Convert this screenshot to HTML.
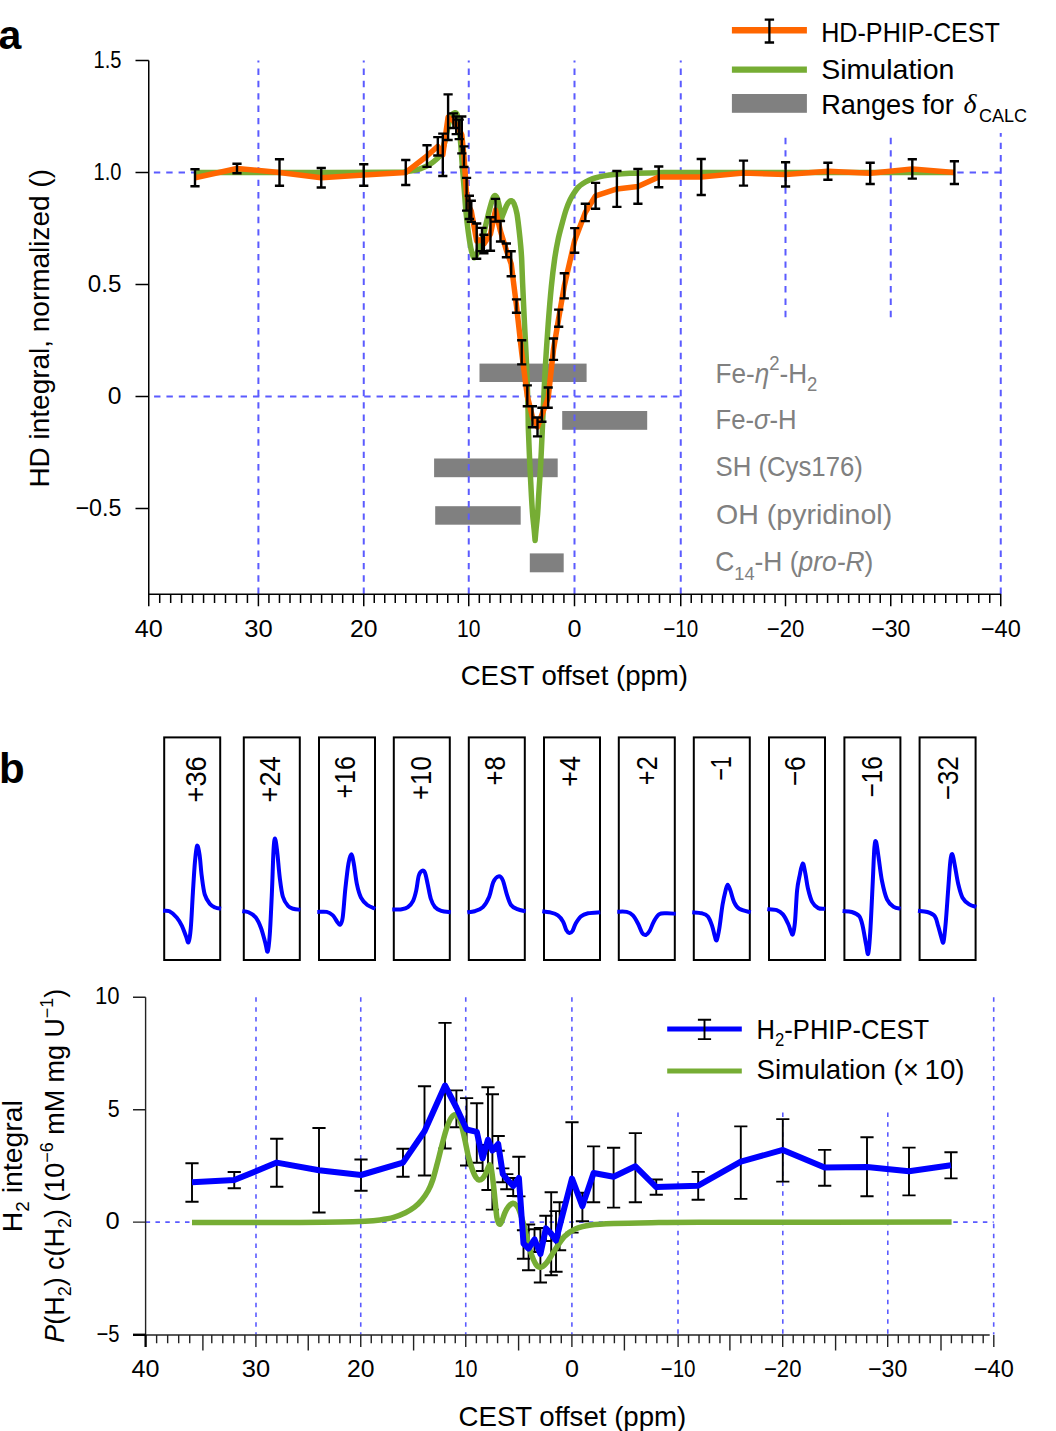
<!DOCTYPE html>
<html><head><meta charset="utf-8"><style>
html,body{margin:0;padding:0;background:#fff;}
svg{display:block;font-family:"Liberation Sans", sans-serif;}
</style></head><body>
<svg width="1056" height="1431" viewBox="0 0 1056 1431">
<rect width="1056" height="1431" fill="#fff"/>
<text x="-1.5" y="48.5" font-size="41" font-weight="bold" fill="#000">a</text>
<rect x="479.5" y="363.6" width="107.1" height="18.4" fill="#808080"/>
<rect x="562.2" y="411" width="85" height="18.8" fill="#808080"/>
<rect x="434.1" y="458.5" width="123.6" height="18.7" fill="#808080"/>
<rect x="435.2" y="506.2" width="85.5" height="18.5" fill="#808080"/>
<rect x="529.8" y="553.4" width="33.9" height="18.9" fill="#808080"/>
<line x1="258.4" y1="594" x2="258.4" y2="60.5" stroke="#5b5bff" stroke-width="2" stroke-dasharray="6.4 5.96" fill="none"/>
<line x1="363.75" y1="594" x2="363.75" y2="60.5" stroke="#5b5bff" stroke-width="2" stroke-dasharray="6.4 5.96" fill="none"/>
<line x1="468.75" y1="594" x2="468.75" y2="60.5" stroke="#5b5bff" stroke-width="2" stroke-dasharray="6.4 5.96" fill="none"/>
<line x1="574.5" y1="594" x2="574.5" y2="60.5" stroke="#5b5bff" stroke-width="2" stroke-dasharray="6.4 5.96" fill="none"/>
<line x1="680.75" y1="594" x2="680.75" y2="60.5" stroke="#5b5bff" stroke-width="2" stroke-dasharray="6.4 5.96" fill="none"/>
<line x1="1000.75" y1="594" x2="1000.75" y2="133" stroke="#5b5bff" stroke-width="2" stroke-dasharray="6.4 5.96" fill="none"/>
<line x1="785.5" y1="137.8" x2="785.5" y2="323" stroke="#5b5bff" stroke-width="2" stroke-dasharray="6.4 5.96" fill="none"/>
<line x1="890.75" y1="137.8" x2="890.75" y2="323" stroke="#5b5bff" stroke-width="2" stroke-dasharray="6.4 5.96" fill="none"/>
<line x1="1000.75" y1="172.4" x2="148.75" y2="172.4" stroke="#5b5bff" stroke-width="2" stroke-dasharray="6.4 5.96" fill="none"/>
<line x1="679.6" y1="396.6" x2="148.75" y2="396.6" stroke="#5b5bff" stroke-width="2" stroke-dasharray="6.4 5.96" fill="none"/>
<path d="M195,172.4 C212.5,172.4 266.67,172.42 300,172.4 C333.33,172.38 377.5,172.4 395,172.3 C412.5,172.2 402.17,172.05 405,171.8 C407.83,171.55 409.5,171.3 412,170.8 C414.5,170.3 417.08,169.83 420,168.8 C422.92,167.77 426.67,166.27 429.5,164.6 C432.33,162.93 435.08,160.6 437,158.8 C438.92,157 439.75,156.43 441,153.8 C442.25,151.17 443.33,147.47 444.5,143 C445.67,138.53 446.92,131.5 448,127 C449.08,122.5 449.92,118.37 451,116 C452.08,113.63 453.5,113.05 454.5,112.8 C455.5,112.55 456.25,112.3 457,114.5 C457.75,116.7 458.37,120.92 459,126 C459.63,131.08 460.22,138 460.8,145 C461.38,152 461.93,160.67 462.5,168 C463.07,175.33 463.6,181.5 464.2,189 C464.8,196.5 465.4,205.67 466.1,213 C466.8,220.33 467.62,227.17 468.4,233 C469.18,238.83 470.07,244.25 470.8,248 C471.53,251.75 472.22,253.87 472.8,255.5 C473.38,257.13 473.77,257.72 474.3,257.8 C474.83,257.88 475.28,257.47 476,256 C476.72,254.53 477.77,251.33 478.6,249 C479.43,246.67 480.18,244.5 481,242 C481.82,239.5 482.77,236.58 483.5,234 C484.23,231.42 484.8,228.93 485.4,226.5 C486,224.07 486.5,221.9 487.1,219.4 C487.7,216.9 488.42,213.82 489,211.5 C489.58,209.18 490.03,207.5 490.6,205.5 C491.17,203.5 491.75,201.15 492.4,199.5 C493.05,197.85 493.68,195.77 494.5,195.6 C495.32,195.43 496.47,196.52 497.3,198.5 C498.13,200.48 498.8,204.17 499.5,207.5 C500.2,210.83 501.17,216.67 501.5,218.5 L501.5,218.5 C501.92,217.42 503.15,214.17 504,212 C504.85,209.83 505.77,207.2 506.6,205.5 C507.43,203.8 508.22,202.6 509,201.8 C509.78,201 510.47,200.42 511.3,200.7 C512.13,200.98 513.07,201.35 514,203.5 C514.93,205.65 516.05,209.13 516.9,213.6 C517.75,218.07 518.45,224.73 519.1,230.3 C519.75,235.87 520.37,242.05 520.8,247 C521.23,251.95 521.4,254 521.7,260 C522,266 522.13,272.33 522.6,283 C523.07,293.67 523.83,310.17 524.5,324 C525.17,337.83 526.02,352 526.6,366 C527.18,380 527.7,397.33 528,408 C528.3,418.67 528.1,420.75 528.4,430 C528.7,439.25 529.28,452.33 529.8,463.5 C530.32,474.67 531.03,488.58 531.5,497 C531.97,505.42 532.15,508.5 532.6,514 C533.05,519.5 533.78,525.58 534.2,530 C534.62,534.42 534.95,538.75 535.1,540.5 L535.1,540.5 C535.25,538.75 535.58,534.42 536,530 C536.42,525.58 537.17,519.5 537.6,514 C538.03,508.5 538.08,505.42 538.6,497 C539.12,488.58 540.08,474.67 540.7,463.5 C541.32,452.33 541.87,439.25 542.3,430 C542.73,420.75 542.78,418.67 543.3,408 C543.82,397.33 544.58,380 545.4,366 C546.22,352 547.22,337.17 548.2,324 C549.18,310.83 550.25,297.67 551.3,287 C552.35,276.33 553.38,267.83 554.5,260 C555.62,252.17 556.75,246 558,240 C559.25,234 560.67,229 562,224 C563.33,219 564.67,214 566,210 C567.33,206 568.67,202.83 570,200 C571.33,197.17 572.67,195.08 574,193 C575.33,190.92 576.5,189.08 578,187.5 C579.5,185.92 581.17,184.7 583,183.5 C584.83,182.3 587,181.22 589,180.3 C591,179.38 592.5,178.73 595,178 C597.5,177.27 600.83,176.5 604,175.9 C607.17,175.3 609.67,174.83 614,174.4 C618.33,173.97 622.67,173.58 630,173.3 C637.33,173.02 646.33,172.85 658,172.7 C669.67,172.55 650.6,172.45 700,172.4 C749.4,172.35 912,172.4 954.4,172.4" stroke="#76ad34" stroke-width="5.5" fill="none" stroke-linejoin="round" stroke-linecap="butt"/>
<path d="M195,177.75 L237,168.5 L279.5,172.5 L321.25,177.75 L363.75,175 L405.75,172.5 L427,156 L437.8,146.3 L442.8,154.8 L448.1,117.2 L453.4,120.7 L456.2,125.3 L459.2,129.4 L461.8,135 L464,156.7 L466.6,194 L469.4,207.4 L471.3,211.3 L476.7,241 L482,239.5 L483.9,244 L490.5,234 L495.5,210 L500.5,231.3 L506.4,250.3 L511.2,263.8 L516.5,306 L521.7,352.4 L527.3,395.9 L532.4,416.8 L537.5,427 L541.9,414.7 L548.2,397.6 L553.5,349.2 L558.7,318.2 L564.3,285.9 L574.7,240.4 L585.3,212.5 L595.6,195.8 L616.9,188.9 L637.9,186.4 L658.75,176.9 L701.25,177 L743.5,173.1 L785.6,174.4 L827.9,171.2 L870.2,173.3 L912.3,168.9 L954.4,172.6" stroke="#ff6600" stroke-width="5.5" fill="none" stroke-linejoin="round"/>
<path d="M195,169.25V186.25 M190.4,169.25h9.2 M190.4,186.25h9.2 M237,163.75V173.25 M232.4,163.75h9.2 M232.4,173.25h9.2 M279.5,159.25V185.75 M274.9,159.25h9.2 M274.9,185.75h9.2 M321.25,168V187.5 M316.65,168h9.2 M316.65,187.5h9.2 M363.75,164.25V185.75 M359.15,164.25h9.2 M359.15,185.75h9.2 M405.75,160V185 M401.15,160h9.2 M401.15,185h9.2 M427,145.3V166.9 M422.4,145.3h9.2 M422.4,166.9h9.2 M437.8,137.1V155.5 M433.2,137.1h9.2 M433.2,155.5h9.2 M442.8,133.6V176 M438.2,133.6h9.2 M438.2,176h9.2 M448.1,94.4V140 M443.5,94.4h9.2 M443.5,140h9.2 M453.4,113.4V128 M448.8,113.4h9.2 M448.8,128h9.2 M456.2,116.5V134.1 M451.6,116.5h9.2 M451.6,134.1h9.2 M459.2,119.6V139.1 M454.6,119.6h9.2 M454.6,139.1h9.2 M461.8,116.5V153.4 M457.2,116.5h9.2 M457.2,153.4h9.2 M464,146.4V167 M459.4,146.4h9.2 M459.4,167h9.2 M466.6,177.9V210.6 M462,177.9h9.2 M462,210.6h9.2 M469.4,195.8V219 M464.8,195.8h9.2 M464.8,219h9.2 M471.3,200.8V221.9 M466.7,200.8h9.2 M466.7,221.9h9.2 M476.7,223.5V258.7 M472.1,223.5h9.2 M472.1,258.7h9.2 M482,227.9V251.1 M477.4,227.9h9.2 M477.4,251.1h9.2 M483.9,234.8V253.3 M479.3,234.8h9.2 M479.3,253.3h9.2 M490.5,217.2V250.8 M485.9,217.2h9.2 M485.9,250.8h9.2 M495.5,198.9V221.6 M490.9,198.9h9.2 M490.9,221.6h9.2 M500.5,221V241.5 M495.9,221h9.2 M495.9,241.5h9.2 M506.4,243.5V257.2 M501.8,243.5h9.2 M501.8,257.2h9.2 M511.2,251.2V276.3 M506.6,251.2h9.2 M506.6,276.3h9.2 M516.5,299.4V312.7 M511.9,299.4h9.2 M511.9,312.7h9.2 M521.7,340.3V364.4 M517.1,340.3h9.2 M517.1,364.4h9.2 M527.3,385.4V406.3 M522.7,385.4h9.2 M522.7,406.3h9.2 M532.4,406.3V427.3 M527.8,406.3h9.2 M527.8,427.3h9.2 M537.5,417.5V436.4 M532.9,417.5h9.2 M532.9,436.4h9.2 M541.9,407.7V421.7 M537.3,407.7h9.2 M537.3,421.7h9.2 M548.2,387.5V407.7 M543.6,387.5h9.2 M543.6,407.7h9.2 M553.5,338.5V359.9 M548.9,338.5h9.2 M548.9,359.9h9.2 M558.7,309.6V326.7 M554.1,309.6h9.2 M554.1,326.7h9.2 M564.3,273.3V298.4 M559.7,273.3h9.2 M559.7,298.4h9.2 M574.7,228.1V252.7 M570.1,228.1h9.2 M570.1,252.7h9.2 M585.3,203.8V221.1 M580.7,203.8h9.2 M580.7,221.1h9.2 M595.6,182.9V208.7 M591,182.9h9.2 M591,208.7h9.2 M616.9,171V206.9 M612.3,171h9.2 M612.3,206.9h9.2 M637.9,169V203.75 M633.3,169h9.2 M633.3,203.75h9.2 M658.75,166.5V187.25 M654.15,166.5h9.2 M654.15,187.25h9.2 M701.25,159V195 M696.65,159h9.2 M696.65,195h9.2 M743.5,160.6V185.6 M738.9,160.6h9.2 M738.9,185.6h9.2 M785.6,162.25V186.5 M781,162.25h9.2 M781,186.5h9.2 M827.9,162.7V179.7 M823.3,162.7h9.2 M823.3,179.7h9.2 M870.2,162.7V184 M865.6,162.7h9.2 M865.6,184h9.2 M912.3,159.2V178.6 M907.7,159.2h9.2 M907.7,178.6h9.2 M954.4,161.2V184 M949.8,161.2h9.2 M949.8,184h9.2" stroke="#000" stroke-width="2.4" fill="none"/>
<path d="M148.75,60.5 V594.2 H1000.75" stroke="#000" stroke-width="1.5" fill="none"/>
<path d="M135.5,60.5H148.75 M135.5,172.4H148.75 M135.5,284.5H148.75 M135.5,396.4H148.75 M135.5,508.5H148.75 M148.75,594V606.3 M159.72,594V603 M170.68,594V603 M181.64,594V603 M192.61,594V603 M203.57,594V603 M214.54,594V603 M225.5,594V603 M236.47,594V603 M247.43,594V603 M258.4,594V606.3 M268.94,594V603 M279.47,594V603 M290,594V603 M300.54,594V603 M311.07,594V603 M321.61,594V603 M332.14,594V603 M342.68,594V603 M353.22,594V603 M363.75,594V606.3 M374.25,594V603 M384.75,594V603 M395.25,594V603 M405.75,594V603 M416.25,594V603 M426.75,594V603 M437.25,594V603 M447.75,594V603 M458.25,594V603 M468.75,594V606.3 M479.32,594V603 M489.9,594V603 M500.48,594V603 M511.05,594V603 M521.62,594V603 M532.2,594V603 M542.77,594V603 M553.35,594V603 M563.92,594V603 M574.5,594V606.3 M585.12,594V603 M595.75,594V603 M606.38,594V603 M617,594V603 M627.62,594V603 M638.25,594V603 M648.88,594V603 M659.5,594V603 M670.12,594V603 M680.75,594V606.3 M691.23,594V603 M701.7,594V603 M712.17,594V603 M722.65,594V603 M733.12,594V603 M743.6,594V603 M754.08,594V603 M764.55,594V603 M775.02,594V603 M785.5,594V606.3 M796.02,594V603 M806.55,594V603 M817.08,594V603 M827.6,594V603 M838.12,594V603 M848.65,594V603 M859.17,594V603 M869.7,594V603 M880.23,594V603 M890.75,594V606.3 M901.75,594V603 M912.75,594V603 M923.75,594V603 M934.75,594V603 M945.75,594V603 M956.75,594V603 M967.75,594V603 M978.75,594V603 M989.75,594V603 M1000.75,594V606.3" stroke="#000" stroke-width="1.5" fill="none"/>
<text x="121.4" y="68.1" font-size="24" text-anchor="end" fill="#000" textLength="27.9" lengthAdjust="spacingAndGlyphs">1.5</text>
<text x="121.4" y="179.9" font-size="24" text-anchor="end" fill="#000" textLength="27.9" lengthAdjust="spacingAndGlyphs">1.0</text>
<text x="121.4" y="292.1" font-size="24" text-anchor="end" fill="#000" textLength="33.6" lengthAdjust="spacingAndGlyphs">0.5</text>
<text x="121.4" y="404" font-size="24" text-anchor="end" fill="#000" textLength="13.7" lengthAdjust="spacingAndGlyphs">0</text>
<text x="121.4" y="516.1" font-size="24" text-anchor="end" fill="#000" textLength="45.9" lengthAdjust="spacingAndGlyphs">−0.5</text>
<text x="148.75" y="636.6" font-size="24" text-anchor="middle" fill="#000" textLength="28" lengthAdjust="spacingAndGlyphs">40</text>
<text x="258.4" y="636.6" font-size="24" text-anchor="middle" fill="#000" textLength="28.4" lengthAdjust="spacingAndGlyphs">30</text>
<text x="363.75" y="636.6" font-size="24" text-anchor="middle" fill="#000" textLength="27.5" lengthAdjust="spacingAndGlyphs">20</text>
<text x="468.75" y="636.6" font-size="24" text-anchor="middle" fill="#000" textLength="23.5" lengthAdjust="spacingAndGlyphs">10</text>
<text x="574.5" y="636.6" font-size="24" text-anchor="middle" fill="#000" textLength="14" lengthAdjust="spacingAndGlyphs">0</text>
<text x="680.75" y="636.6" font-size="24" text-anchor="middle" fill="#000" textLength="35" lengthAdjust="spacingAndGlyphs">−10</text>
<text x="785.5" y="636.6" font-size="24" text-anchor="middle" fill="#000" textLength="37.5" lengthAdjust="spacingAndGlyphs">−20</text>
<text x="890.75" y="636.6" font-size="24" text-anchor="middle" fill="#000" textLength="39.25" lengthAdjust="spacingAndGlyphs">−30</text>
<text x="1000.75" y="636.6" font-size="24" text-anchor="middle" fill="#000" textLength="40" lengthAdjust="spacingAndGlyphs">−40</text>
<text x="460.7" y="684.5" font-size="27.8" fill="#000" textLength="227.3" lengthAdjust="spacingAndGlyphs">CEST offset (ppm)</text>
<text transform="translate(48.8,487.6) rotate(-90)" font-size="28" fill="#000" textLength="318.6" lengthAdjust="spacingAndGlyphs">HD integral, normalized ()</text>
<line x1="731.9" y1="30.3" x2="806.9" y2="30.3" stroke="#ff6600" stroke-width="6.5"/>
<path d="M769.4,19.6V42.5 M764.7,19.6h9.4 M764.7,42.5h9.4" stroke="#000" stroke-width="2.3" fill="none"/>
<line x1="731.9" y1="69.6" x2="806.9" y2="69.6" stroke="#76ad34" stroke-width="6.1"/>
<rect x="731.9" y="94" width="75" height="18.8" fill="#808080"/>
<text x="821.2" y="42" font-size="28" fill="#000" textLength="178.8" lengthAdjust="spacingAndGlyphs">HD-PHIP-CEST</text>
<text x="821.2" y="78.6" font-size="28" fill="#000" textLength="133.2" lengthAdjust="spacingAndGlyphs">Simulation</text>
<text x="821.2" y="114" font-size="28" fill="#000" textLength="132.7" lengthAdjust="spacingAndGlyphs">Ranges for</text>
<text x="963.5" y="113.4" font-size="28" font-style="italic" fill="#000" font-family='"Liberation Serif", serif'>δ</text>
<text x="979" y="121.5" font-size="18.6" fill="#000" textLength="48" lengthAdjust="spacingAndGlyphs">CALC</text>
<text x="715.5" y="383.1" font-size="27.5" fill="#808080" textLength="101.9" lengthAdjust="spacingAndGlyphs">Fe-<tspan font-style="italic">η</tspan><tspan font-size="19.5" dy="-13.2">2</tspan><tspan dy="13.2">-H</tspan><tspan font-size="19.5" dy="8">2</tspan></text>
<text x="715.5" y="428.6" font-size="27.5" fill="#808080" textLength="81.1" lengthAdjust="spacingAndGlyphs">Fe-<tspan font-style="italic">σ</tspan>-H</text>
<text x="715.5" y="476" font-size="27.5" fill="#808080" textLength="147.4" lengthAdjust="spacingAndGlyphs">SH (Cys176)</text>
<text x="716.1" y="523.9" font-size="27.5" fill="#808080" textLength="176.1" lengthAdjust="spacingAndGlyphs">OH (pyridinol)</text>
<text x="715.2" y="570.5" font-size="27.5" fill="#808080" textLength="158.1" lengthAdjust="spacingAndGlyphs">C<tspan font-size="19" dy="9.3">14</tspan><tspan dy="-9.3">-H (</tspan><tspan font-style="italic">pro-R</tspan>)</text>
<text x="-1" y="782.5" font-size="42" font-weight="bold" fill="#000">b</text>
<rect x="164.2" y="737.4" width="56" height="222.6" fill="none" stroke="#000" stroke-width="2"/>
<rect x="243.8" y="737.4" width="56" height="222.6" fill="none" stroke="#000" stroke-width="2"/>
<rect x="319" y="737.4" width="56" height="222.6" fill="none" stroke="#000" stroke-width="2"/>
<rect x="393.8" y="737.4" width="56" height="222.6" fill="none" stroke="#000" stroke-width="2"/>
<rect x="468.8" y="737.4" width="56" height="222.6" fill="none" stroke="#000" stroke-width="2"/>
<rect x="544" y="737.4" width="56" height="222.6" fill="none" stroke="#000" stroke-width="2"/>
<rect x="618.8" y="737.4" width="56" height="222.6" fill="none" stroke="#000" stroke-width="2"/>
<rect x="693.8" y="737.4" width="56" height="222.6" fill="none" stroke="#000" stroke-width="2"/>
<rect x="769" y="737.4" width="56" height="222.6" fill="none" stroke="#000" stroke-width="2"/>
<rect x="844.4" y="737.4" width="56" height="222.6" fill="none" stroke="#000" stroke-width="2"/>
<rect x="919.6" y="737.4" width="56" height="222.6" fill="none" stroke="#000" stroke-width="2"/>
<text transform="translate(206,756.2) rotate(-90)" font-size="29.5" text-anchor="end" fill="#000" textLength="46.3" lengthAdjust="spacingAndGlyphs">+36</text>
<text transform="translate(280,756.2) rotate(-90)" font-size="29.5" text-anchor="end" fill="#000" textLength="46.3" lengthAdjust="spacingAndGlyphs">+24</text>
<text transform="translate(355.4,756.2) rotate(-90)" font-size="29.5" text-anchor="end" fill="#000" textLength="42.3" lengthAdjust="spacingAndGlyphs">+16</text>
<text transform="translate(431,756.2) rotate(-90)" font-size="29.5" text-anchor="end" fill="#000" textLength="43.8" lengthAdjust="spacingAndGlyphs">+10</text>
<text transform="translate(505.1,756.2) rotate(-90)" font-size="29.5" text-anchor="end" fill="#000" textLength="29.2" lengthAdjust="spacingAndGlyphs">+8</text>
<text transform="translate(579.8,756.2) rotate(-90)" font-size="29.5" text-anchor="end" fill="#000" textLength="30.6" lengthAdjust="spacingAndGlyphs">+4</text>
<text transform="translate(657,756.2) rotate(-90)" font-size="29.5" text-anchor="end" fill="#000" textLength="29" lengthAdjust="spacingAndGlyphs">+2</text>
<text transform="translate(731,756.2) rotate(-90)" font-size="29.5" text-anchor="end" fill="#000" textLength="24.6" lengthAdjust="spacingAndGlyphs">−1</text>
<text transform="translate(805,756.2) rotate(-90)" font-size="29.5" text-anchor="end" fill="#000" textLength="30.1" lengthAdjust="spacingAndGlyphs">−6</text>
<text transform="translate(882.3,756.2) rotate(-90)" font-size="29.5" text-anchor="end" fill="#000" textLength="41.2" lengthAdjust="spacingAndGlyphs">−16</text>
<text transform="translate(957.5,756.2) rotate(-90)" font-size="29.5" text-anchor="end" fill="#000" textLength="44.1" lengthAdjust="spacingAndGlyphs">−32</text>
<path d="M163.1,910.8 C164.15,910.88 167.13,910.18 169.4,911.3 C171.67,912.42 174.62,915.08 176.7,917.5 C178.78,919.92 180.35,922.67 181.9,925.8 C183.45,928.93 184.9,933.55 186,936.3 C187.1,939.05 187.7,943.68 188.5,942.3 C189.3,940.92 190.07,936.3 190.8,928 C191.53,919.7 192.2,903.62 192.9,892.5 C193.6,881.38 194.3,869.08 195,861.3 C195.7,853.52 196.33,846.85 197.1,845.8 C197.87,844.75 198.83,850 199.6,855 C200.37,860 200.83,869.2 201.7,875.8 C202.57,882.4 203.42,889.9 204.8,894.6 C206.18,899.3 208.27,901.85 210,904 C211.73,906.15 213.37,906.71 215.2,907.5 C217.03,908.29 220.03,908.54 221,908.75" stroke="#0000ff" stroke-width="4" fill="none" stroke-linejoin="round"/>
<path d="M242.3,911.25 C243.33,911.42 246.25,911.26 248.5,912.3 C250.75,913.34 253.72,914.88 255.8,917.5 C257.88,920.12 259.43,923.83 261,928 C262.57,932.17 264.08,938.57 265.2,942.5 C266.32,946.43 266.93,952.98 267.7,951.6 C268.47,950.22 269.1,944.05 269.8,934.2 C270.5,924.35 271.28,906.4 271.9,892.5 C272.52,878.6 272.98,859.78 273.5,850.8 C274.02,841.82 274.4,838.6 275,838.6 C275.6,838.6 276.3,844.25 277.1,850.8 C277.9,857.35 278.83,870.25 279.8,877.9 C280.77,885.55 281.52,892.02 282.9,896.7 C284.28,901.38 286.37,903.99 288.1,906 C289.83,908.01 291.27,908.12 293.3,908.75 C295.33,909.38 299.13,909.62 300.3,909.8" stroke="#0000ff" stroke-width="4" fill="none" stroke-linejoin="round"/>
<path d="M317.3,911.9 C318.87,911.9 324.1,911.32 326.7,911.9 C329.3,912.48 331.17,913.77 332.9,915.4 C334.63,917.03 335.88,920.17 337.1,921.7 C338.32,923.23 339.27,925.3 340.2,924.6 C341.13,923.9 341.83,923.55 342.7,917.5 C343.57,911.45 344.43,897.33 345.4,888.3 C346.37,879.27 347.52,868.98 348.5,863.3 C349.48,857.62 350.38,854.2 351.25,854.2 C352.12,854.2 352.81,858.3 353.75,863.3 C354.69,868.3 355.69,878.47 356.9,884.2 C358.11,889.93 359.27,894.23 361,897.7 C362.73,901.17 364.92,903.16 367.3,905 C369.68,906.84 373.97,908.12 375.3,908.75" stroke="#0000ff" stroke-width="4" fill="none" stroke-linejoin="round"/>
<path d="M392.3,909.6 C393.87,909.53 399.1,909.62 401.7,909.2 C404.3,908.78 406,908.5 407.9,907.1 C409.8,905.7 411.71,903.58 413.1,900.8 C414.49,898.02 415.31,894.57 416.25,890.4 C417.19,886.23 417.77,879.07 418.75,875.8 C419.73,872.53 421.06,871.32 422.1,870.8 C423.14,870.28 424.07,870.47 425,872.7 C425.93,874.93 426.73,879.86 427.7,884.2 C428.67,888.54 429.58,894.93 430.8,898.75 C432.02,902.57 433.26,905.09 435,907.1 C436.74,909.11 438.63,909.93 441.25,910.8 C443.87,911.67 449.12,912.05 450.7,912.3" stroke="#0000ff" stroke-width="4" fill="none" stroke-linejoin="round"/>
<path d="M467.3,912.3 C468.52,912.12 472,912.12 474.6,911.25 C477.2,910.38 480.47,909.52 482.9,907.1 C485.33,904.68 487.47,900.87 489.2,896.7 C490.93,892.53 491.75,885.48 493.3,882.1 C494.85,878.72 496.93,876.75 498.5,876.4 C500.07,876.05 501.3,876.97 502.7,880 C504.1,883.03 505.52,890.43 506.9,894.6 C508.28,898.77 509.27,902.57 511,905 C512.73,907.43 514.85,908.16 517.3,909.2 C519.75,910.24 524.3,910.91 525.7,911.25" stroke="#0000ff" stroke-width="4" fill="none" stroke-linejoin="round"/>
<path d="M542.3,911.25 C543.52,911.42 547,911.61 549.6,912.3 C552.2,912.99 555.65,913.83 557.9,915.4 C560.15,916.97 561.71,919.27 563.1,921.7 C564.49,924.13 565.2,928.12 566.25,930 C567.3,931.88 568.36,932.83 569.4,933 C570.44,933.17 571.47,932.54 572.5,931 C573.53,929.46 574.22,926.17 575.6,923.75 C576.98,921.33 578.72,918.24 580.8,916.5 C582.88,914.76 584.85,914 588.1,913.3 C591.35,912.6 598.27,912.47 600.3,912.3" stroke="#0000ff" stroke-width="4" fill="none" stroke-linejoin="round"/>
<path d="M617.3,911.7 C618.87,911.73 624.1,911.28 626.7,911.9 C629.3,912.52 631,913.42 632.9,915.4 C634.8,917.38 636.53,920.8 638.1,923.75 C639.67,926.7 641.02,931.23 642.3,933.1 C643.58,934.98 644.58,935.35 645.8,935 C647.02,934.65 648.27,933.22 649.6,931 C650.93,928.78 652.18,924.47 653.75,921.7 C655.32,918.93 656.92,915.8 659,914.4 C661.08,913 663.47,913.41 666.25,913.3 C669.03,913.19 674.12,913.67 675.7,913.75" stroke="#0000ff" stroke-width="4" fill="none" stroke-linejoin="round"/>
<path d="M692.3,912.3 C693.87,912.47 699.1,912.6 701.7,913.3 C704.3,914 706.17,914.42 707.9,916.5 C709.63,918.58 710.95,922.51 712.1,925.8 C713.25,929.09 714.03,933.85 714.8,936.25 C715.57,938.65 715.93,941.59 716.7,940.2 C717.47,938.81 718.43,933.77 719.4,927.9 C720.37,922.03 721.47,911.25 722.5,905 C723.53,898.75 724.73,893.77 725.6,890.4 C726.47,887.03 726.9,884.8 727.7,884.8 C728.5,884.8 729.35,887.55 730.4,890.4 C731.45,893.25 732.53,898.84 734,901.9 C735.47,904.96 736.42,907.02 739.2,908.75 C741.98,910.48 748.78,911.71 750.7,912.3" stroke="#0000ff" stroke-width="4" fill="none" stroke-linejoin="round"/>
<path d="M767.3,909.2 C768.87,909.37 774.1,909.33 776.7,910.2 C779.3,911.07 781,912.14 782.9,914.4 C784.8,916.66 786.71,920.8 788.1,923.75 C789.49,926.7 790.45,930.39 791.25,932.1 C792.05,933.81 792.27,935.73 792.9,934 C793.52,932.27 794.3,928.97 795,921.7 C795.7,914.43 796.33,898.05 797.1,890.4 C797.87,882.75 798.67,880.28 799.6,875.8 C800.53,871.32 801.73,863.84 802.7,863.5 C803.67,863.16 804.53,869.62 805.4,873.75 C806.27,877.88 806.78,883.61 807.9,888.3 C809.02,892.99 810.37,898.6 812.1,901.9 C813.83,905.2 816.1,906.96 818.3,908.1 C820.5,909.24 824.13,908.64 825.3,908.75" stroke="#0000ff" stroke-width="4" fill="none" stroke-linejoin="round"/>
<path d="M842.6,911.1 C844.13,911.25 849.02,911.15 851.8,912 C854.58,912.85 857.48,913.83 859.3,916.2 C861.12,918.57 861.57,921.45 862.7,926.2 C863.83,930.95 865.18,940.13 866.1,944.7 C867.02,949.27 867.5,955.83 868.2,953.6 C868.9,951.37 869.53,943.4 870.3,931.3 C871.07,919.2 872.12,894.98 872.8,881 C873.48,867.02 873.85,853.93 874.4,847.4 C874.95,840.87 875.4,840.12 876.1,841.8 C876.8,843.48 877.62,850.97 878.6,857.5 C879.58,864.03 880.6,874.02 882,881 C883.4,887.98 885.05,895.08 887,899.4 C888.95,903.72 891.43,905.37 893.7,906.9 C895.97,908.43 899.45,908.32 900.6,908.6" stroke="#0000ff" stroke-width="4" fill="none" stroke-linejoin="round"/>
<path d="M918,910.8 C919.55,911 924.5,911.1 927.3,912 C930.1,912.9 932.98,913.83 934.8,916.2 C936.62,918.57 937.08,922.57 938.2,926.2 C939.32,929.83 940.62,935.37 941.5,938 C942.38,940.63 942.8,944.52 943.5,942 C944.2,939.48 944.92,931.68 945.7,922.9 C946.48,914.12 947.42,899.65 948.2,889.3 C948.98,878.95 949.7,866.63 950.4,860.8 C951.1,854.97 951.65,853.47 952.4,854.3 C953.15,855.13 953.92,860.8 954.9,865.8 C955.88,870.8 957.03,878.98 958.3,884.3 C959.57,889.62 960.68,894.35 962.5,897.7 C964.32,901.05 966.9,902.87 969.2,904.4 C971.5,905.93 975.12,906.48 976.3,906.9" stroke="#0000ff" stroke-width="4" fill="none" stroke-linejoin="round"/>
<line x1="256" y1="997.3" x2="256" y2="1334.5" stroke="#5a5aff" stroke-width="1.6" stroke-dasharray="4.5 5.35" fill="none"/>
<line x1="360.75" y1="997.3" x2="360.75" y2="1334.5" stroke="#5a5aff" stroke-width="1.6" stroke-dasharray="4.5 5.35" fill="none"/>
<line x1="465.75" y1="997.3" x2="465.75" y2="1334.5" stroke="#5a5aff" stroke-width="1.6" stroke-dasharray="4.5 5.35" fill="none"/>
<line x1="571.9" y1="997.3" x2="571.9" y2="1334.5" stroke="#5a5aff" stroke-width="1.6" stroke-dasharray="4.5 5.35" fill="none"/>
<line x1="993.7" y1="997.3" x2="993.7" y2="1334.5" stroke="#5a5aff" stroke-width="1.6" stroke-dasharray="4.5 5.35" fill="none"/>
<line x1="678" y1="1112.5" x2="678" y2="1334.5" stroke="#5a5aff" stroke-width="1.6" stroke-dasharray="4.5 5.35" fill="none"/>
<line x1="782.8" y1="1112.5" x2="782.8" y2="1334.5" stroke="#5a5aff" stroke-width="1.6" stroke-dasharray="4.5 5.35" fill="none"/>
<line x1="887.8" y1="1112.5" x2="887.8" y2="1334.5" stroke="#5a5aff" stroke-width="1.6" stroke-dasharray="4.5 5.35" fill="none"/>
<line x1="145.6" y1="1222.1" x2="993.7" y2="1222.1" stroke="#5a5aff" stroke-width="1.6" stroke-dasharray="4.5 5.35" fill="none"/>
<path d="M192,1163.25V1201.75 M185.4,1163.25h13.2 M185.4,1201.75h13.2 M234.25,1172V1188.25 M227.65,1172h13.2 M227.65,1188.25h13.2 M276.75,1138.75V1186.75 M270.15,1138.75h13.2 M270.15,1186.75h13.2 M319,1128V1212.5 M312.4,1128h13.2 M312.4,1212.5h13.2 M361,1159.5V1190.75 M354.4,1159.5h13.2 M354.4,1190.75h13.2 M403,1148.75V1176.75 M396.4,1148.75h13.2 M396.4,1176.75h13.2 M424.5,1086.3V1175.5 M417.9,1086.3h13.2 M417.9,1175.5h13.2 M445,1022.9V1148.5 M438.4,1022.9h13.2 M438.4,1148.5h13.2 M456.4,1090.4V1127.3 M449.8,1090.4h13.2 M449.8,1127.3h13.2 M466.6,1098.1V1165.5 M460,1098.1h13.2 M460,1165.5h13.2 M476.8,1103.3V1162.7 M470.2,1103.3h13.2 M470.2,1162.7h13.2 M482.6,1145V1171 M476,1145h13.2 M476,1171h13.2 M488,1087.3V1190 M481.4,1087.3h13.2 M481.4,1190h13.2 M492.4,1094.2V1209.6 M485.8,1094.2h13.2 M485.8,1209.6h13.2 M498.2,1136V1150.8 M491.6,1136h13.2 M491.6,1150.8h13.2 M502.8,1168.4V1182.3 M496.2,1168.4h13.2 M496.2,1182.3h13.2 M506.8,1174.1V1189.2 M500.2,1174.1h13.2 M500.2,1189.2h13.2 M513.2,1178V1196 M506.6,1178h13.2 M506.6,1196h13.2 M518.9,1156.8V1196.4 M512.3,1156.8h13.2 M512.3,1196.4h13.2 M523.5,1230.3V1258.7 M516.9,1230.3h13.2 M516.9,1258.7h13.2 M528.6,1224.5V1270.2 M522,1224.5h13.2 M522,1270.2h13.2 M534.5,1229.2V1252 M527.9,1229.2h13.2 M527.9,1252h13.2 M540.4,1228V1282.5 M533.8,1228h13.2 M533.8,1282.5h13.2 M545.9,1215.7V1241 M539.3,1215.7h13.2 M539.3,1241h13.2 M551.2,1192.3V1275.2 M544.6,1192.3h13.2 M544.6,1275.2h13.2 M556,1211.1V1271.8 M549.4,1211.1h13.2 M549.4,1271.8h13.2 M559.6,1202.3V1250.3 M553,1202.3h13.2 M553,1250.3h13.2 M572,1122.3V1232.6 M565.4,1122.3h13.2 M565.4,1232.6h13.2 M582.4,1192.8V1221.2 M575.8,1192.8h13.2 M575.8,1221.2h13.2 M593.6,1146.4V1202.3 M587,1146.4h13.2 M587,1202.3h13.2 M613.6,1147.7V1207.6 M607,1147.7h13.2 M607,1207.6h13.2 M635.4,1133.1V1202.3 M628.8,1133.1h13.2 M628.8,1202.3h13.2 M656.25,1179.5V1194.7 M649.65,1179.5h13.2 M649.65,1194.7h13.2 M698.2,1171.9V1199.8 M691.6,1171.9h13.2 M691.6,1199.8h13.2 M740.8,1126.4V1198.9 M734.2,1126.4h13.2 M734.2,1198.9h13.2 M782.8,1119.1V1181.6 M776.2,1119.1h13.2 M776.2,1181.6h13.2 M824.7,1149.9V1185.7 M818.1,1149.9h13.2 M818.1,1185.7h13.2 M867,1137.3V1196.3 M860.4,1137.3h13.2 M860.4,1196.3h13.2 M909,1147.6V1195.4 M902.4,1147.6h13.2 M902.4,1195.4h13.2 M951,1152.3V1178.4 M944.4,1152.3h13.2 M944.4,1178.4h13.2" stroke="#000" stroke-width="1.9" fill="none"/>
<path d="M192,1222.4 C210,1222.4 275.33,1222.45 300,1222.4 C324.67,1222.35 329.17,1222.3 340,1222.1 C350.83,1221.9 358.33,1221.57 365,1221.2 C371.67,1220.83 375.23,1220.53 380,1219.9 C384.77,1219.27 389.37,1218.58 393.6,1217.4 C397.83,1216.22 401.92,1214.5 405.4,1212.8 C408.88,1211.1 411.77,1209.33 414.5,1207.2 C417.23,1205.07 419.53,1202.73 421.8,1200 C424.07,1197.27 426.28,1194.13 428.1,1190.8 C429.92,1187.47 431.18,1184.5 432.7,1180 C434.22,1175.5 435.68,1169.53 437.2,1163.8 C438.72,1158.07 440.28,1151.35 441.8,1145.6 C443.32,1139.85 444.8,1133.83 446.3,1129.3 C447.8,1124.77 449.28,1120.83 450.8,1118.4 C452.32,1115.97 453.88,1114.43 455.4,1114.7 C456.92,1114.97 458.38,1116.1 459.9,1120 C461.42,1123.9 463.05,1131.85 464.5,1138.1 C465.95,1144.35 467.23,1152.1 468.6,1157.5 C469.97,1162.9 471.47,1167.17 472.7,1170.5 C473.93,1173.83 474.93,1175.92 476,1177.5 C477.07,1179.08 478.02,1179.83 479.1,1180 C480.18,1180.17 481.43,1179.5 482.5,1178.5 C483.57,1177.5 484.58,1175.75 485.5,1174 C486.42,1172.25 487.27,1169.5 488,1168 C488.73,1166.5 489.32,1164.67 489.9,1165 C490.48,1165.33 490.88,1166.5 491.5,1170 C492.12,1173.5 492.93,1180.17 493.6,1186 C494.27,1191.83 494.93,1199.67 495.5,1205 C496.07,1210.33 496.38,1214.83 497,1218 C497.62,1221.17 498.45,1223.33 499.2,1224 C499.95,1224.67 500.57,1223.83 501.5,1222 C502.43,1220.17 503.63,1215.58 504.8,1213 C505.97,1210.42 507.13,1208.13 508.5,1206.5 C509.87,1204.87 511.67,1203.37 513,1203.2 C514.33,1203.03 515.42,1204.2 516.5,1205.5 C517.58,1206.8 518.15,1207.25 519.5,1211 C520.85,1214.75 522.8,1221.33 524.6,1228 C526.4,1234.67 528.4,1244.92 530.3,1251 C532.2,1257.08 534.27,1261.78 536,1264.5 C537.73,1267.22 538.97,1267.55 540.7,1267.3 C542.43,1267.05 544.03,1265.88 546.4,1263 C548.77,1260.12 551.9,1254.42 554.9,1250 C557.9,1245.58 560.92,1240.03 564.4,1236.5 C567.88,1232.97 571.38,1230.72 575.8,1228.8 C580.22,1226.88 584.6,1225.88 590.9,1225 C597.2,1224.12 603.5,1223.88 613.6,1223.5 C623.7,1223.12 637.1,1222.9 651.5,1222.7 C665.9,1222.5 649.98,1222.4 700,1222.3 C750.02,1222.2 909.67,1222.13 951.6,1222.1" stroke="#76ad34" stroke-width="5.5" fill="none" stroke-linejoin="round"/>
<path d="M192,1182.3 L234.25,1180.1 L276.75,1162.6 L319,1170.2 L361,1175 L403,1162.6 L424.5,1131.2 L445,1085.5 L456.4,1107.5 L466.6,1129.5 L476.8,1131.9 L482.6,1158.3 L488,1139.7 L492.4,1150.5 L498.2,1144 L502.8,1174 L506.8,1179 L513.2,1186 L518.9,1178 L523.5,1243.5 L528.6,1248.5 L534.5,1239.3 L540.4,1254 L545.9,1228.4 L551.2,1233.7 L556,1240.5 L559.6,1226.3 L572,1178.6 L582.4,1206.1 L593.6,1173 L613.6,1176.7 L635.4,1166.3 L656.25,1187.1 L698.2,1185.7 L740.8,1161.7 L782.8,1149.9 L824.7,1167.5 L867,1166.9 L909,1171.3 L951,1165.2" stroke="#0000ff" stroke-width="6" fill="none" stroke-linejoin="round"/>
<path d="M145.6,997.3 V1335 H989.7" stroke="#222" stroke-width="1.4" fill="none"/>
<path d="M133,997.3H145.6 M133,1109.7H145.6 M133,1222.1H145.6 M133,1334.6H145.6" stroke="#222" stroke-width="1.4" fill="none"/>
<path d="M133,1334.8H145.6" stroke="#000" stroke-width="2.4" fill="none"/>
<path d="M145.6,1335V1347 M156.63,1335V1343.3 M167.66,1335V1343.3 M178.69,1335V1343.3 M189.72,1335V1343.3 M202.9,1335V1350.5 M211.78,1335V1343.3 M222.81,1335V1343.3 M233.84,1335V1343.3 M244.87,1335V1343.3 M255.9,1335V1347 M266.38,1335V1343.3 M276.87,1335V1343.3 M287.36,1335V1343.3 M297.84,1335V1343.3 M308.25,1335V1350.5 M318.81,1335V1343.3 M329.3,1335V1343.3 M339.78,1335V1343.3 M350.26,1335V1343.3 M360.75,1335V1347 M371.25,1335V1343.3 M381.75,1335V1343.3 M392.25,1335V1343.3 M402.75,1335V1343.3 M413.6,1335V1350.5 M423.75,1335V1343.3 M434.25,1335V1343.3 M444.75,1335V1343.3 M455.25,1335V1343.3 M465.75,1335V1347 M476.37,1335V1343.3 M486.98,1335V1343.3 M497.59,1335V1343.3 M508.21,1335V1343.3 M518.6,1335V1350.5 M529.44,1335V1343.3 M540.05,1335V1343.3 M550.67,1335V1343.3 M561.28,1335V1343.3 M571.9,1335V1347 M582.52,1335V1343.3 M593.14,1335V1343.3 M603.76,1335V1343.3 M614.38,1335V1343.3 M624.4,1335V1350.5 M635.62,1335V1343.3 M646.24,1335V1343.3 M656.86,1335V1343.3 M667.48,1335V1343.3 M678.1,1335V1347 M688.56,1335V1343.3 M699.02,1335V1343.3 M709.48,1335V1343.3 M719.94,1335V1343.3 M729.9,1335V1350.5 M740.86,1335V1343.3 M751.32,1335V1343.3 M761.78,1335V1343.3 M772.24,1335V1343.3 M782.7,1335V1347 M793.2,1335V1343.3 M803.7,1335V1343.3 M814.2,1335V1343.3 M824.7,1335V1343.3 M835.6,1335V1350.5 M845.7,1335V1343.3 M856.2,1335V1343.3 M866.7,1335V1343.3 M877.2,1335V1343.3 M887.7,1335V1347 M898.31,1335V1343.3 M908.92,1335V1343.3 M919.53,1335V1343.3 M930.14,1335V1343.3 M941,1335V1350.5 M951.36,1335V1343.3 M961.97,1335V1343.3 M972.58,1335V1343.3 M983.19,1335V1343.3 M993.8,1335V1347" stroke="#222" stroke-width="1.4" fill="none"/>
<path d="M145.6,1335V1347" stroke="#000" stroke-width="2.2" fill="none"/>
<text x="119.6" y="1004.2" font-size="24" text-anchor="end" fill="#000" textLength="24.6" lengthAdjust="spacingAndGlyphs">10</text>
<text x="119.6" y="1116.6" font-size="24" text-anchor="end" fill="#000" textLength="11.9" lengthAdjust="spacingAndGlyphs">5</text>
<text x="119.6" y="1229" font-size="24" text-anchor="end" fill="#000" textLength="14.2" lengthAdjust="spacingAndGlyphs">0</text>
<text x="119.6" y="1341.6" font-size="24" text-anchor="end" fill="#000" textLength="23" lengthAdjust="spacingAndGlyphs">−5</text>
<text x="145.6" y="1377" font-size="24" text-anchor="middle" fill="#000" textLength="28" lengthAdjust="spacingAndGlyphs">40</text>
<text x="255.9" y="1377" font-size="24" text-anchor="middle" fill="#000" textLength="28.4" lengthAdjust="spacingAndGlyphs">30</text>
<text x="360.75" y="1377" font-size="24" text-anchor="middle" fill="#000" textLength="27.5" lengthAdjust="spacingAndGlyphs">20</text>
<text x="465.75" y="1377" font-size="24" text-anchor="middle" fill="#000" textLength="23.5" lengthAdjust="spacingAndGlyphs">10</text>
<text x="571.9" y="1377" font-size="24" text-anchor="middle" fill="#000" textLength="14" lengthAdjust="spacingAndGlyphs">0</text>
<text x="678.1" y="1377" font-size="24" text-anchor="middle" fill="#000" textLength="35" lengthAdjust="spacingAndGlyphs">−10</text>
<text x="782.7" y="1377" font-size="24" text-anchor="middle" fill="#000" textLength="37.5" lengthAdjust="spacingAndGlyphs">−20</text>
<text x="887.7" y="1377" font-size="24" text-anchor="middle" fill="#000" textLength="39.25" lengthAdjust="spacingAndGlyphs">−30</text>
<text x="993.8" y="1377" font-size="24" text-anchor="middle" fill="#000" textLength="40" lengthAdjust="spacingAndGlyphs">−40</text>
<text x="458.5" y="1425.7" font-size="27.8" fill="#000" textLength="227.8" lengthAdjust="spacingAndGlyphs">CEST offset (ppm)</text>
<text transform="translate(21.8,1232.2) rotate(-90)" font-size="27" fill="#000" textLength="132" lengthAdjust="spacingAndGlyphs">H<tspan font-size="18" dy="7">2</tspan><tspan dy="-7"> integral</tspan></text>
<text transform="translate(63.6,1342.7) rotate(-90)" font-size="27" fill="#000" textLength="354" lengthAdjust="spacingAndGlyphs"><tspan font-style="italic">P</tspan>(H<tspan font-size="18" dy="7">2</tspan><tspan dy="-7">) c(H</tspan><tspan font-size="18" dy="7">2</tspan><tspan dy="-7">) (10</tspan><tspan font-size="18" dy="-11">−6</tspan><tspan dy="11"> mM mg U</tspan><tspan font-size="18" dy="-11">−1</tspan><tspan dy="11">)</tspan></text>
<line x1="667.2" y1="1029" x2="741.8" y2="1029" stroke="#0000ff" stroke-width="5.1"/>
<path d="M704.5,1019.8V1039.1 M697.9,1019.8h13.2 M697.9,1039.1h13.2" stroke="#000" stroke-width="1.9" fill="none"/>
<line x1="667.2" y1="1071" x2="741.8" y2="1071" stroke="#76ad34" stroke-width="5.1"/>
<text x="756.6" y="1039.1" font-size="27.5" fill="#000" textLength="172.5" lengthAdjust="spacingAndGlyphs">H<tspan font-size="18" dy="7">2</tspan><tspan dy="-7">-PHIP-CEST</tspan></text>
<text x="756.6" y="1079.4" font-size="27.5" fill="#000" textLength="208" lengthAdjust="spacingAndGlyphs">Simulation (× 10)</text>
</svg>
</body></html>
